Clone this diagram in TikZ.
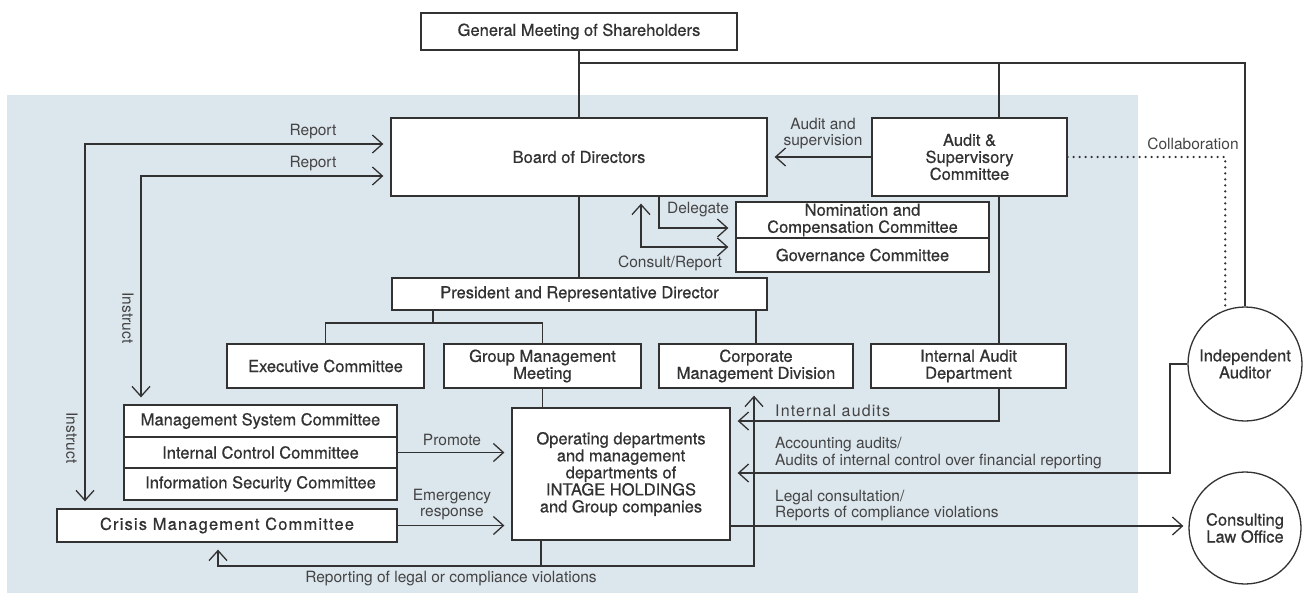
\documentclass[tikz,border=0pt]{standalone}
\usepackage{fontspec}
\setmainfont{TeX Gyre Heros}
\newfontfamily\boxfont[FakeBold=0.6]{TeX Gyre Heros}
\newfontfamily\spacedboxfont[FakeBold=0.6,LetterSpace=7]{TeX Gyre Heros}
\newfontfamily\spacedfont[LetterSpace=7]{TeX Gyre Heros}
\usetikzlibrary{arrows.meta}
\definecolor{bgblue}{RGB}{220,230,237}
\definecolor{ink}{RGB}{50,50,50}
\definecolor{labelink}{RGB}{68,68,68}
\begin{document}
\begin{tikzpicture}[x=1pt,y=-1pt,
  box/.style={draw=ink, line width=1.3pt, fill=white, inner sep=0pt, align=center, text=ink, font=\boxfont\fontsize{16.5}{17}\selectfont},
  lab/.style={inner sep=0pt, text=labelink, font=\fontsize{15.5}{15.5}\selectfont, align=center},
  conn/.style={draw=ink, line width=1.3pt},
  arr/.style={conn, -{Straight Barb[length=10pt,width=18pt]}, shorten >=7pt},
  arrb/.style={conn, {Straight Barb[length=10pt,width=18pt]}-{Straight Barb[length=10pt,width=18pt]}, shorten >=7pt, shorten <=7pt},
  dots/.style={draw=ink, line width=2.4pt, line cap=round, dash pattern=on 0pt off 6pt},
]
\useasboundingbox (0,0) rectangle (1303,605);
\fill[bgblue] (7,95) rectangle (1138,593);

% boxes
\node[box, minimum width=316pt, minimum height=37pt] (gm) at (579,31.5) {General Meeting of Shareholders};
\node[box, minimum width=376pt, minimum height=78pt] (board) at (579,157) {Board of Directors};
\node[box, minimum width=195pt, minimum height=78pt] (as) at (969.5,157) {Audit \&\\Supervisory\\Committee};
\node[box, minimum width=253pt, minimum height=36pt] (nom) at (862.5,220) {Nomination and\\Compensation Committee};
\node[box, minimum width=253pt, minimum height=34pt] (gov) at (862.5,255) {Governance Committee};
\node[box, minimum width=375pt, minimum height=32pt] (pres) at (579.5,294) {President and Representative Director};
\node[box, minimum width=197pt, minimum height=44pt] (exec) at (325.5,366) {Executive Committee};
\node[box, minimum width=197pt, minimum height=44pt] (grp) at (542.5,366) {Group Management\\Meeting};
\node[box, minimum width=194pt, minimum height=44pt] (corp) at (756,366) {Corporate\\Management Division};
\node[box, minimum width=195pt, minimum height=44pt] (iad) at (968.5,366) {Internal Audit\\Department};
\node[box, minimum width=273pt, minimum height=32pt] (msc) at (260.5,421) {Management System Committee};
\node[box, minimum width=273pt, minimum height=31pt] (icc) at (260.5,452.5) {Internal Control Committee};
\node[box, minimum width=273pt, minimum height=32pt] (isc) at (260.5,484) {Information Security Committee};
\node[box, minimum width=340pt, minimum height=33pt, font=\spacedboxfont\fontsize{16.5}{17}\selectfont] (crisis) at (227,525.5) {Crisis Management Committee};
\node[box, minimum width=218pt, minimum height=132pt] (op) at (621,474) {Operating departments\\and management\\departments of\\INTAGE HOLDINGS\\and Group companies};
\node[box, circle, minimum size=114pt] (ia) at (1245,364) {Independent\\Auditor};
\node[box, circle, minimum size=112pt] (clo) at (1245,528) {Consulting\\Law Office};

% helper coordinates
\coordinate (j0) at (579,63);
\coordinate (asx) at (999,63);
\coordinate (ox) at (85,144);
\coordinate (ix) at (141,176);
\coordinate (dl) at (659,228);
\coordinate (cr) at (641,247);
\coordinate (pc) at (433,323);
\coordinate (iay) at (999,421);
\coordinate (acc) at (1170,473);
\coordinate (lg) at (730,526);
\coordinate (rp) at (541,566);
\coordinate (rl) at (218,566);
\coordinate (rr) at (754,566);

% connectors
\draw[conn] (gm.south) -- (board.north);
\draw[conn] (j0) -| (ia.north);
\draw[conn] (asx) -- (as.north -| asx);
\draw[conn] (as.south -| asx) -- (iad.north -| asx);
\draw[arr] (iad.south -| asx) |- (op.east |- iay);
\draw[arr] (as.west) -- (board.east);
\draw[dots] (as.east) -| (ia.110);
\draw[arrb] (crisis.north -| ox) |- (board.west |- ox);
\draw[arrb] (msc.north -| ix) |- (board.west |- ix);
\draw[arr] (board.south -| dl) |- (nom.west |- dl);
\draw[arrb] (board.south -| cr) |- (gov.west |- cr);
\draw[conn] (board.south) -- (pres.north -| board.south);
\draw[conn] (pres.south -| pc) -- (pc);
\draw[conn] (exec.north) -- (exec.north |- pc) -- (grp.north |- pc) -- (grp.north);
\draw[conn] (pres.south -| corp.north) -- (corp.north);
\draw[conn] (grp.south) -- (op.north -| grp.south);
\draw[arr] (icc.east) -- (op.west |- icc.east);
\draw[arr] (crisis.east) -- (op.west |- crisis.east);
\draw[conn] (op.south -| rp) -- (rp);
\draw[arrb] (crisis.south -| rl) -- (rl) -- (rr) -- (corp.south -| rr);
\draw[arr] (ia.west) -| (acc) -- (op.east |- acc);
\draw[arr, shorten >=5pt] (lg) -- (clo.west |- lg);

% labels
\node[lab] (rep1) at (313,132) {Report};
\node[lab] (rep2) at (313,164) {Report};
\node[lab, rotate=-90] (ins1) at (128,318) {Instruct};
\node[lab, rotate=-90] (ins2) at (72,438) {Instruct};
\node[lab] (audsup) at (823,133.5) {Audit and\\supervision};
\node[lab] (deleg) at (698,210) {Delegate};
\node[lab] (consrep) at (670,263) {Consult/Report};
\node[lab] (collab) at (1193,144) {Collaboration};
\node[lab] (promote) at (452,440) {Promote};
\node[lab] (emerg) at (452,504.5) {Emergency\\response};
\node[lab, anchor=west, font=\spacedfont\fontsize{16}{17}\selectfont] (intaud) at (775,411) {Internal audits};
\node[lab, anchor=west, align=left, font=\fontsize{15.5}{17}\selectfont] (accaud) at (775,453.5) {Accounting audits/\\Audits of internal control over financial reporting};
\node[lab, anchor=west, align=left] (legal) at (775,505.5) {Legal consultation/\\Reports of compliance violations};
\node[lab] (reporting) at (451,579) {Reporting of legal or compliance violations};
\end{tikzpicture}
\end{document}
